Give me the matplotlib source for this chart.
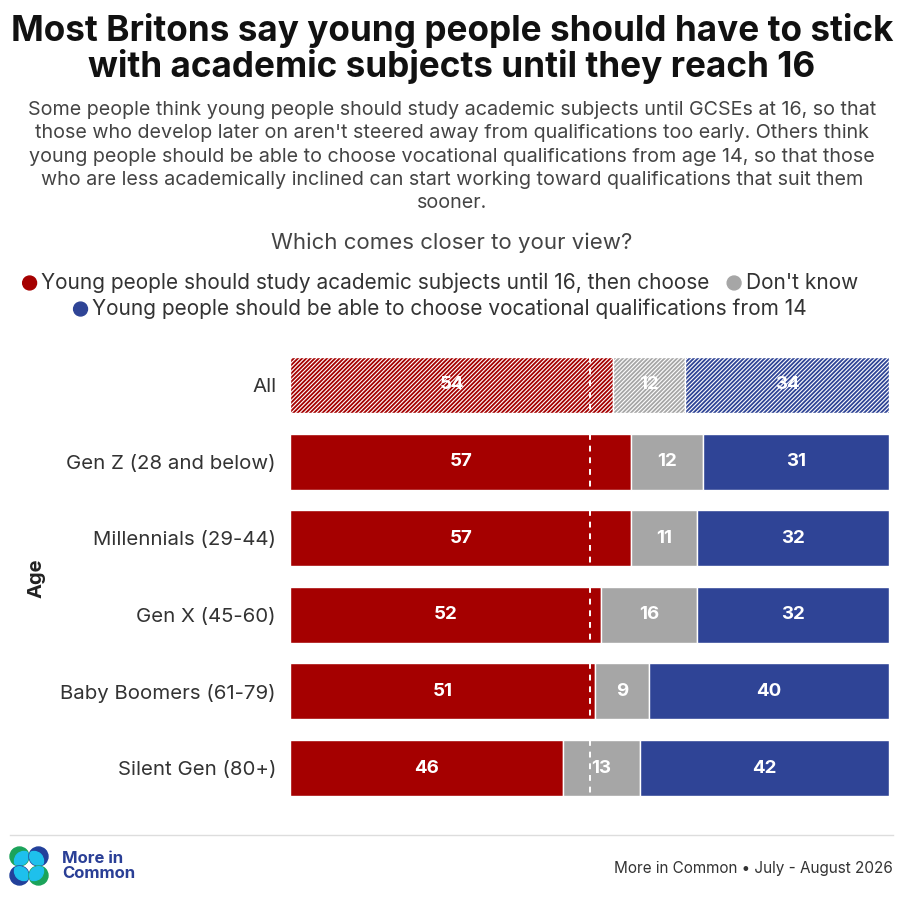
import matplotlib
matplotlib.use("Agg")
import matplotlib.pyplot as plt
import numpy as np
from matplotlib.offsetbox import TextArea, DrawingArea, HPacker, VPacker, AnchoredOffsetbox
from matplotlib.patches import Circle
from matplotlib.lines import Line2D

# --- data ---
groups = ['All', 'Gen Z (28 and below)', 'Millennials (29-44)', 'Gen X (45-60)',
          'Baby Boomers (61-79)', 'Silent Gen (80+)']
academic = [54, 57, 57, 52, 51, 46]
dont_know = [12, 12, 11, 16, 9, 13]
vocational = [34, 31, 32, 32, 40, 42]
series_labels = ['Young people should study academic subjects until 16, then choose',
                 "Don't know",
                 'Young people should be able to choose vocational qualifications from 14']

RED = '#A50000'
GREY = '#A6A6A6'
BLUE = '#2F4496'
TXT = '#333333'
FONT = 'Inter'

plt.rcParams['font.family'] = [FONT, 'DejaVu Sans']
plt.rcParams['hatch.linewidth'] = 0.8

W, H = 904, 902
fig = plt.figure(figsize=(W / 100, H / 100), dpi=100)

def fx(px):
    return px / W

def fy(py):
    return 1 - py / H

# --- titles ---
fig.text(0.5, fy(31), 'Most Britons say young people should have to stick',
         ha='center', va='center', fontsize=25.3, fontweight='bold', color='#111111')
fig.text(0.5, fy(66), 'with academic subjects until they reach 16',
         ha='center', va='center', fontsize=25.3, fontweight='bold', color='#111111')

subtitle = ("Some people think young people should study academic subjects until GCSEs at 16, so that\n"
            "those who develop later on aren't steered away from qualifications too early. Others think\n"
            "young people should be able to choose vocational qualifications from age 14, so that those\n"
            "who are less academically inclined can start working toward qualifications that suit them\n"
            "sooner.")
fig.text(0.5, fy(101), subtitle, ha='center', va='top', fontsize=14.2, color='#444444',
         linespacing=1.38, multialignment='center')

fig.text(0.5, fy(243), 'Which comes closer to your view?', ha='center', va='center',
         fontsize=16, color='#444444')

# --- legend ---
def legend_item(color, label):
    da = DrawingArea(11, 11, 0, 0)
    da.add_artist(Circle((5.5, 5.5), 5, color=color))
    ta = TextArea(label, textprops=dict(fontsize=15, color=TXT))
    return HPacker(children=[da, ta], pad=0, sep=3, align='center')

row1 = HPacker(children=[legend_item(RED, series_labels[0]), legend_item(GREY, series_labels[1])],
               pad=0, sep=12, align='center')
row2 = HPacker(children=[legend_item(BLUE, series_labels[2])], pad=0, sep=0, align='center')
legend_box = VPacker(children=[row1, row2], pad=0, sep=4, align='center')
anch = AnchoredOffsetbox(loc='center', child=legend_box, frameon=False,
                         bbox_to_anchor=(fx(440), fy(296)), bbox_transform=fig.transFigure,
                         borderpad=0, pad=0)
fig.add_artist(anch)

# --- bars ---
ax = fig.add_axes([fx(290), fy(814), fx(599), (814 - 339) / H])
y = np.arange(len(groups))
acad = np.array(academic, float)
dk = np.array(dont_know, float)
voc = np.array(vocational, float)
tot = acad + dk + voc
a_n, d_n, v_n = acad / tot * 100, dk / tot * 100, voc / tot * 100
bh = 0.73

for i in range(len(groups)):
    hatch = '////////' if i == 0 else None
    segs = [(0, a_n[i], RED, academic[i]),
            (a_n[i], d_n[i], GREY, dont_know[i]),
            (a_n[i] + d_n[i], v_n[i], BLUE, vocational[i])]
    for left, width, col, val in segs:
        ax.barh(y[i], width, left=left, height=bh, color=col, edgecolor='white',
                linewidth=1, hatch=hatch)
        ax.text(left + width / 2, y[i], str(val), ha='center', va='center',
                fontsize=13.5, fontweight='bold', color='white')
    ax.add_line(Line2D([50, 50], [y[i] - bh / 2, y[i] + bh / 2], color='white',
                       linewidth=1.4, linestyle=(0, (3, 3))))

ax.set_xlim(0, 100)
ax.set_ylim(5.6, -0.6)
ax.set_yticks(y)
ax.set_yticklabels(groups, fontsize=14.7, color=TXT)
ax.tick_params(axis='y', length=0, pad=10)
ax.set_xticks([])
for s in ax.spines.values():
    s.set_visible(False)

fig.text(fx(37), fy(578), 'Age', rotation=90, ha='center', va='center',
         fontsize=14.5, fontweight='bold', color='#222222')

# --- footer ---
fig.add_artist(Line2D([fx(10), fx(893)], [fy(835), fy(835)], color='#DDDDDD',
                      linewidth=1, transform=fig.transFigure))

lx, ly = 29, 866
r = 9.5
cyan = '#1EC0EC'
green = '#1BA35A'
dblue = '#22409A'
logo_ax = fig.add_axes([fx(lx - 22), fy(ly + 22), fx(44), 44 / H])
logo_ax.set_xlim(-22, 22)
logo_ax.set_ylim(-22, 22)
logo_ax.set_aspect('equal')
logo_ax.axis('off')
for (sx, sy, col) in [(-1, 1, green), (1, 1, dblue), (-1, -1, dblue), (1, -1, green)]:
    cx, cy = sx * 9.5, sy * 9.5
    outer = Circle((cx, cy), r, color=col)
    logo_ax.add_patch(outer)
    inner = Circle((cx - sx * 4.5, cy - sy * 4.5), r, color=cyan)
    logo_ax.add_patch(inner)
    inner.set_clip_path(outer)

fig.text(fx(62), fy(866), 'More in\nCommon', ha='left', va='center', fontsize=12,
         fontweight='bold', color='#2A3F96', linespacing=1.05)
fig.text(fx(893), fy(868), 'More in Common • July - August 2026', ha='right', va='center',
         fontsize=11, color=TXT)

fig.savefig('out.png', dpi=100)
